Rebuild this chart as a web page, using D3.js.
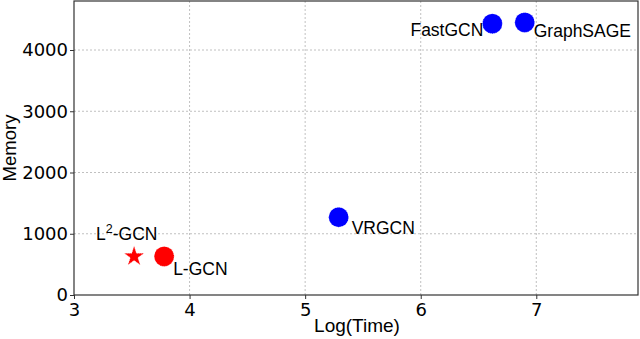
<!DOCTYPE html>
<html><head><meta charset="utf-8">
<script src="https://cdn.jsdelivr.net/npm/d3@7"></script>
<style>body{margin:0;background:#fff}text{font-family:"Liberation Sans",Arial,sans-serif}</style>
</head><body><svg id="c" width="640" height="339"></svg>
<script>
const names = ["L-GCN","VRGCN","FastGCN","GraphSAGE"];
const logTime = [3.78, 5.29, 6.62, 6.90];
const memory = [630, 1270, 4430, 4450];
const colors = ["red","blue","blue","blue"];
const starName = ["L","2","-GCN"];
const starTime = [3.52];
const starMemory = [630];
const xTicks = [3,4,5,6,7];
const yTicks = [0,1000,2000,3000,4000];

const svg = d3.select("#c");
const L=74,R=638,T=1,B=295;
const x = d3.scaleLinear().domain([3,7.88]).range([L,R]);
const y = d3.scaleLinear().domain([0,4800]).range([B,T]);

const g = svg.append("g");
g.selectAll(".gx").data(xTicks.slice(1)).join("line").attr("x1",d=>x(d)).attr("x2",d=>x(d)).attr("y1",T).attr("y2",B)
 .attr("stroke","#b0b0b0").attr("stroke-width",0.8).attr("stroke-dasharray","2,2");
g.selectAll(".gy").data(yTicks.slice(1)).join("line").attr("y1",d=>y(d)).attr("y2",d=>y(d)).attr("x1",L).attr("x2",R)
 .attr("stroke","#b0b0b0").attr("stroke-width",0.8).attr("stroke-dasharray","2,2");

svg.append("rect").attr("x",L).attr("y",T).attr("width",R-L).attr("height",B-T).attr("fill","none").attr("stroke","#333").attr("stroke-width",1.2);

const xa = svg.append("g").attr("transform",`translate(0,${B})`).call(d3.axisBottom(x).tickValues(xTicks).tickFormat(d3.format("d")).tickSize(4).tickPadding(4));
const ya = svg.append("g").attr("transform",`translate(${L},0)`).call(d3.axisLeft(y).tickValues(yTicks).tickFormat(d3.format("d")).tickSize(4).tickPadding(2));
[xa,ya].forEach(a=>{a.select(".domain").remove();a.selectAll("text").attr("font-size",18).attr("fill","#000").style("font-family","'DejaVu Sans',sans-serif");a.selectAll("line").attr("stroke","#333");});

svg.append("text").attr("x",357).attr("y",332).attr("text-anchor","middle").attr("font-size",19).text("Log(Time)");
svg.append("text").attr("transform","translate(16,148) rotate(-90)").attr("text-anchor","middle").attr("font-size",18.5).text("Memory");

// star point
const star = d3.symbol().type(d3.symbolStar).size(125);
svg.append("path").attr("d",star()).attr("transform",`translate(${x(starTime[0])},${y(starMemory[0])})`)
  .attr("fill","red").attr("stroke","#fff").attr("stroke-width",0.8).attr("stroke-dasharray","1,1").attr("stroke-opacity",0.8);
const st = svg.append("text").attr("x",x(starTime[0])-38).attr("y",y(starMemory[0])-16).attr("font-size",17.5);
st.append("tspan").text(starName[0]);
st.append("tspan").attr("font-size",12.5).attr("dy",-7).text(starName[1]);
st.append("tspan").attr("dy",7).text(starName[2]);

// circle points
const data = names.map((n,i)=>({n,x:logTime[i],y:memory[i],c:colors[i]}));
svg.selectAll(".pt").data(data).join("circle").attr("cx",d=>x(d.x)).attr("cy",d=>y(d.y)).attr("r",10).attr("fill",d=>d.c)
  .attr("stroke","#fff").attr("stroke-width",0.8).attr("stroke-dasharray","1,1").attr("stroke-opacity",0.7);

const off = [
  {dx:9,dy:19,a:"start"},
  {dx:13,dy:17,a:"start"},
  {dx:-9,dy:12,a:"end"},
  {dx:9,dy:15,a:"start"}
];
data.forEach((d,i)=>{
  svg.append("text").attr("x",x(d.x)+off[i].dx).attr("y",y(d.y)+off[i].dy).attr("text-anchor",off[i].a).attr("font-size",17.5).text(d.n);
});
</script></body></html>
